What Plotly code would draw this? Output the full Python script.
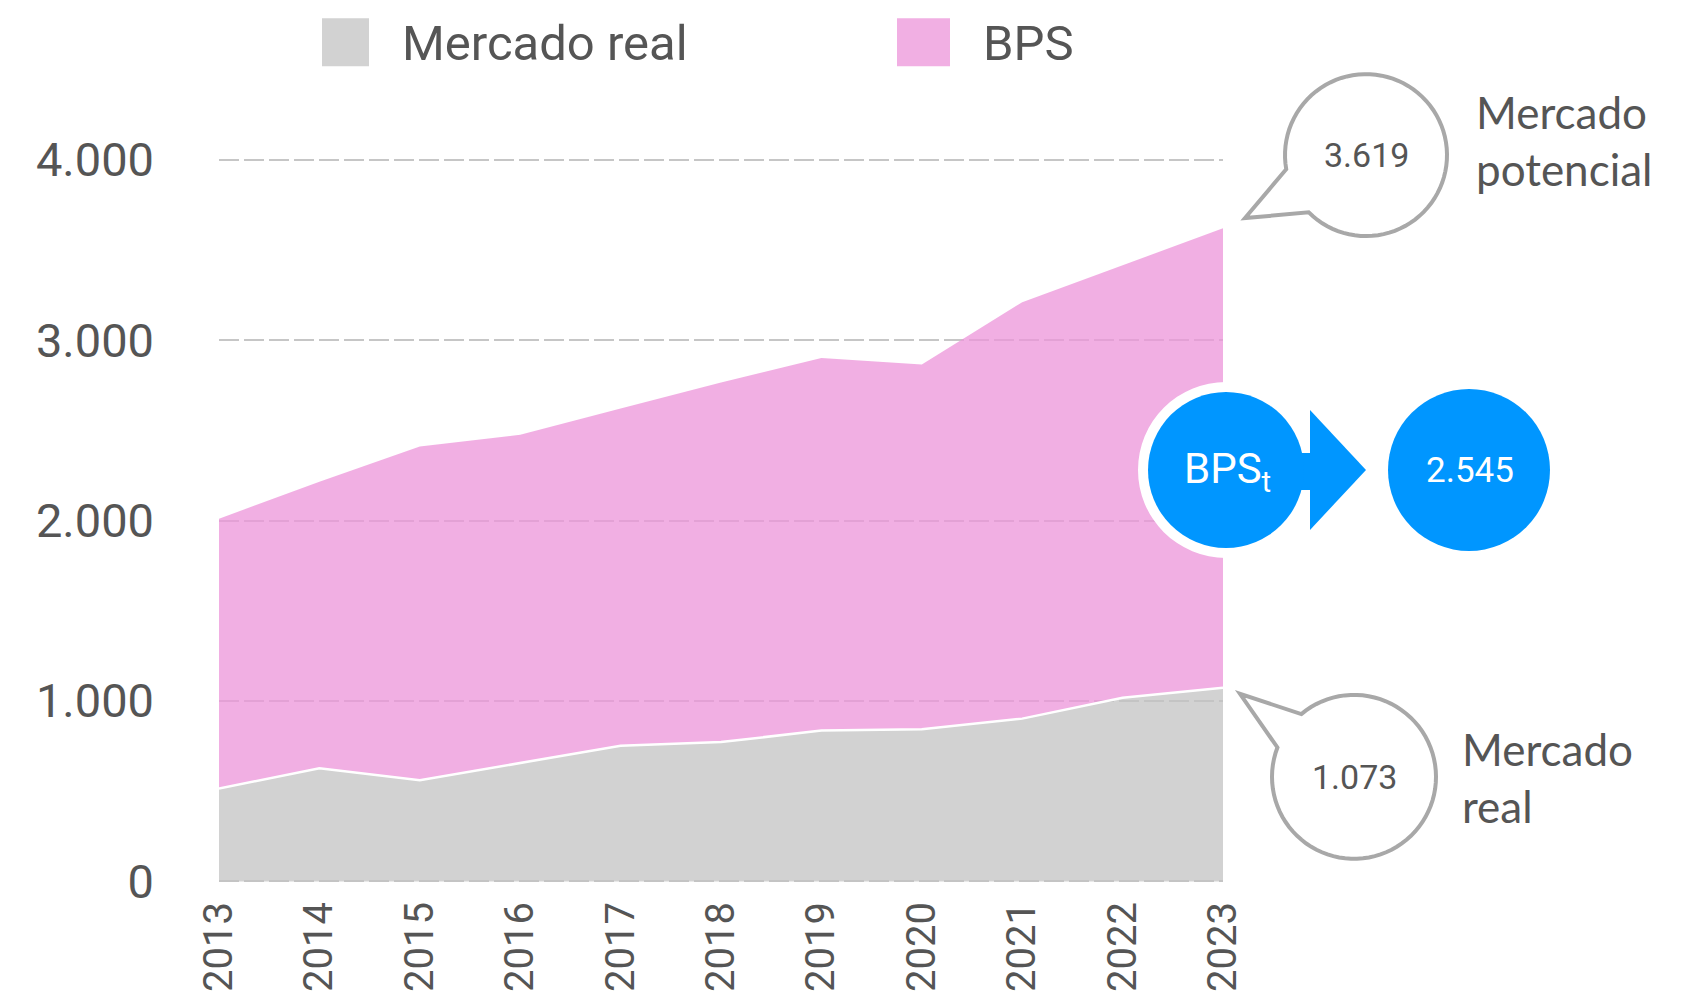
import numpy as np
import plotly.graph_objects as go

years = [2013, 2014, 2015, 2016, 2017, 2018, 2019, 2020, 2021, 2022, 2023]
mercado_real = [515, 627, 560, 655, 752, 772, 836, 843, 902, 1018, 1073]
mercado_potencial = [2010, 2215, 2410, 2475, 2620, 2765, 2900, 2865, 3210, 3415, 3619]
y_ticks = [0, 1000, 2000, 3000, 4000]
bps_t = 2545

NUM = "Roboto, sans-serif"
TEXT = "Lato, Noto Sans, sans-serif"
GREY_TXT = "#555555"
BLUE = "#0096ff"
BUBBLE = "#a8a8a8"

# page geometry in pixels (the html body adds an 8px margin)
OFF = 8
W_PAGE, H_PAGE = 1690, 993
Y0_PX, Y4000_PX = 881.6, 159.5      # where 0 and 4.000 sit on the page
PAD = 20                              # y-range padding so edge gridlines draw
S = (Y0_PX - Y4000_PX) / 4000
L = 219 - OFF
T = Y4000_PX - PAD * S - OFF
B = H_PAGE - (Y0_PX + PAD * S - OFF)
R = W_PAGE - (1223 - OFF)
PW = W_PAGE - L - R
PH = H_PAGE - T - B


def px(x):
    return (x - OFF - L) / PW


def py(y):
    return (H_PAGE - B - (y - OFF)) / PH


def bubble_path(cx, cy, r, a_start, a_end, tip):
    # circle outline with a gap between a_end and a_start where the tail sits
    angs = np.radians(np.linspace(a_start, a_end + 360 if a_end < a_start else a_end, 80))
    pts = [(cx + r * np.cos(a), cy + r * np.sin(a)) for a in angs]
    pts.append(tip)
    return "M " + " L ".join(f"{px(x):.5f},{py(y):.5f}" for x, y in pts) + " Z"


def label(text, x, y, size, color=GREY_TXT, family=NUM, xanchor="center", align="center"):
    return dict(text=text, xref="paper", yref="paper", x=px(x), y=py(y),
                xanchor=xanchor, yanchor="middle", align=align, showarrow=False,
                font=dict(family=family, size=size, color=color))


fig = go.Figure()

fig.add_trace(go.Scatter(
    x=years, y=mercado_real, mode="lines", name="Mercado real",
    line=dict(color="white", width=2.5), fill="tozeroy",
    fillcolor="rgba(195,195,195,0.75)", showlegend=False, hoverinfo="skip"))
fig.add_trace(go.Scatter(
    x=years, y=mercado_potencial, mode="lines", name="BPS",
    line=dict(width=0), fill="tonexty",
    fillcolor="rgba(236,148,218,0.75)", showlegend=False, hoverinfo="skip"))

shapes = []
annotations = []

# legend
shapes.append(dict(type="rect", xref="paper", yref="paper", x0=px(322), x1=px(369),
                   y0=py(66), y1=py(18), fillcolor="#d2d2d2", line=dict(width=0)))
shapes.append(dict(type="rect", xref="paper", yref="paper", x0=px(897), x1=px(950),
                   y0=py(66), y1=py(18), fillcolor="#f1afe3", line=dict(width=0)))
annotations.append(label("Mercado real", 400, 43, 49, xanchor="left"))
annotations.append(label("BPS", 981, 43, 49, xanchor="left"))

# speech bubbles
shapes.append(dict(type="path", xref="paper", yref="paper",
                   path=bubble_path(1366, 155, 81, 170, 135, (1245, 218)),
                   line=dict(color=BUBBLE, width=4), fillcolor="white"))
shapes.append(dict(type="path", xref="paper", yref="paper",
                   path=bubble_path(1354, 777, 82, 230, 201, (1240, 694)),
                   line=dict(color=BUBBLE, width=4), fillcolor="white"))
annotations.append(label(f"{mercado_potencial[-1] / 1000:.3f}", 1366, 155, 34))
annotations.append(label(f"{mercado_real[-1] / 1000:.3f}", 1354, 777, 34))
annotations.append(label("Mercado<br>potencial", 1474, 140, 44, family=TEXT,
                         xanchor="left", align="left"))
annotations.append(label("Mercado<br>real", 1460, 778, 44, family=TEXT,
                         xanchor="left", align="left"))

# blue BPS_t -> value
shapes.append(dict(type="circle", xref="paper", yref="paper", x0=px(1226 - 88), x1=px(1226 + 88),
                   y0=py(470 + 88), y1=py(470 - 88), fillcolor="white", line=dict(width=0)))
shapes.append(dict(type="rect", xref="paper", yref="paper", x0=px(1280), x1=px(1312),
                   y0=py(490), y1=py(453), fillcolor=BLUE, line=dict(width=0)))
shapes.append(dict(type="path", xref="paper", yref="paper",
                   path=f"M {px(1310)},{py(410)} L {px(1366)},{py(470)} L {px(1310)},{py(530)} Z",
                   fillcolor=BLUE, line=dict(width=0)))
shapes.append(dict(type="circle", xref="paper", yref="paper", x0=px(1226 - 78), x1=px(1226 + 78),
                   y0=py(470 + 78), y1=py(470 - 78), fillcolor=BLUE, line=dict(width=0)))
shapes.append(dict(type="circle", xref="paper", yref="paper", x0=px(1469 - 81), x1=px(1469 + 81),
                   y0=py(470 + 81), y1=py(470 - 81), fillcolor=BLUE, line=dict(width=0)))
annotations.append(label("BPS<sub>t</sub>", 1227, 472, 42, color="white"))
annotations.append(label(f"{bps_t / 1000:.3f}", 1470, 471, 35, color="white"))

# small stray ticks at right edge
for yy in [427, 554, 682]:
    shapes.append(dict(type="line", xref="paper", yref="paper", x0=px(1683), x1=px(1698),
                       y0=py(yy), y1=py(yy), line=dict(color="#b0b0b0", width=2)))

fig.update_layout(
    width=W_PAGE, height=H_PAGE,
    margin=dict(l=L, r=R, t=T, b=B, autoexpand=False),
    plot_bgcolor="white", paper_bgcolor="white",
    separators=",.",
    shapes=shapes, annotations=annotations,
    showlegend=False,
)
fig.update_xaxes(
    range=[years[0], years[-1]], tickvals=years, ticktext=[str(y) for y in years],
    tickangle=-90, showgrid=False, zeroline=False, showline=False, ticks="",
    tickfont=dict(family=NUM, size=40, color=GREY_TXT), ticklabelstandoff=8,
)
fig.update_yaxes(
    range=[-PAD, 4000 + PAD], tickvals=y_ticks, tickformat=",d",
    showgrid=True, gridcolor="#c6c6c6", gridwidth=2, griddash="20px,5px",
    zeroline=False, showline=False, ticks="",
    tickfont=dict(family=NUM, size=47, color=GREY_TXT), ticklabelstandoff=64,
)

fig.write_html("out.html")
